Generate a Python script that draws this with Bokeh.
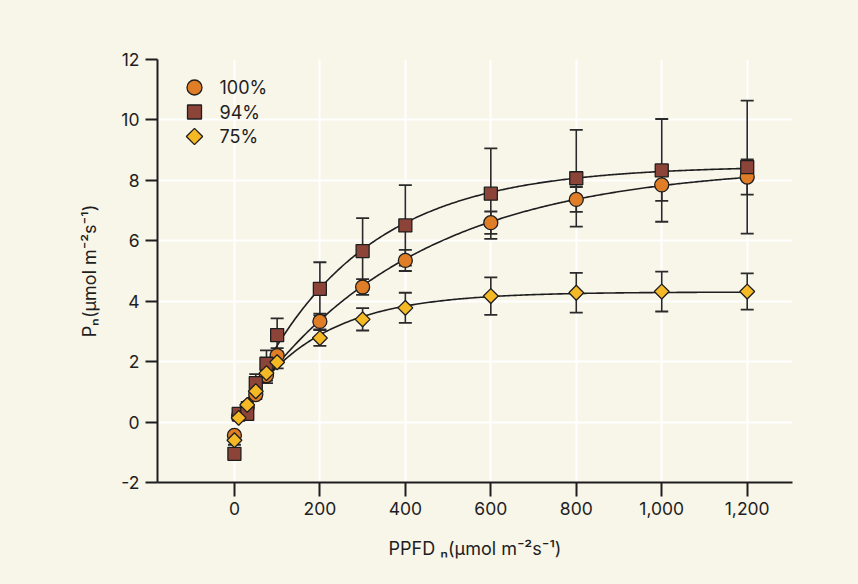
import numpy as np
from bokeh.plotting import figure
from bokeh.models import Range1d, FixedTicker, NumeralTickFormatter, CustomJSTickFormatter
from bokeh.core.properties import value
from bokeh.embed import file_html
from bokeh.resources import INLINE

# ---- data ----
ppfd = [0, 10, 30, 50, 75, 100, 200, 300, 400, 600, 800, 1000, 1200]
pn_100 = [-0.44, 0.22, 0.50, 0.91, 1.54, 2.20, 3.33, 4.47, 5.35, 6.60, 7.37, 7.85, 8.11]
pn_94 = [-1.05, 0.27, 0.27, 1.29, 1.93, 2.88, 4.41, 5.66, 6.51, 7.56, 8.07, 8.33, 8.44]
pn_75 = [-0.60, 0.14, 0.57, 1.02, 1.62, 1.98, 2.78, 3.40, 3.78, 4.17, 4.28, 4.32, 4.32]
err_100 = [0.10, 0.10, 0.12, 0.15, 0.25, 0.25, 0.26, 0.26, 0.35, 0.37, 0.41, 0.53, 0.58]
err_94 = [0.10, 0.10, 0.10, 0.30, 0.44, 0.55, 0.88, 1.09, 1.33, 1.50, 1.60, 1.70, 2.20]
err_75 = [0.15, 0.10, 0.10, 0.20, 0.25, 0.20, 0.26, 0.37, 0.50, 0.62, 0.66, 0.66, 0.60]
series_names = ["100%", "94%", "75%"]
x_ticks = [0, 200, 400, 600, 800, 1000, 1200]
y_ticks = [-2, 0, 2, 4, 6, 8, 10, 12]

BG = "#F8F5E9"
INK = "#1E1E1E"
FONT = "Inter"

W, H = 842, 568
BL, BR, BT, BB = 157, 50, 59, 86
FW, FH = W - BL - BR, H - BT - BB

p = figure(width=W, height=H, output_backend="svg", toolbar_location=None,
           x_range=Range1d(-180, 1306), y_range=Range1d(-2, 12),
           min_border_left=BL, min_border_right=BR, min_border_top=BT, min_border_bottom=BB)
p.background_fill_color = BG
p.border_fill_color = BG
p.outline_line_color = None
# pixel-based helper ranges for the legend block
p.extra_x_ranges = {"lgx": Range1d(0, FW)}
p.extra_y_ranges = {"lgy": Range1d(0, FH)}

for ax in (p.xaxis[0], p.yaxis[0]):
    ax.axis_line_color = INK
    ax.axis_line_width = 2
    ax.major_tick_line_color = INK
    ax.major_tick_line_width = 2
    ax.major_tick_in = 0
    ax.minor_tick_line_color = None
    ax.major_label_text_font = FONT
    ax.major_label_text_font_size = "17.5px"
    ax.major_label_text_color = INK
    ax.axis_label_text_font = FONT
    ax.axis_label_text_font_size = "18px"
    ax.axis_label_text_font_style = "normal"
    ax.axis_label_text_color = INK

p.xaxis[0].ticker = FixedTicker(ticks=x_ticks)
p.xaxis[0].formatter = NumeralTickFormatter(format="0,0")
p.xaxis[0].major_tick_out = 14
p.xaxis[0].major_label_standoff = 5
p.xaxis[0].axis_label = "PPFD \u2099(\u03bcmol m\u207b\u00b2s\u207b\u00b9)"
p.xaxis[0].axis_label_standoff = 20

p.yaxis[0].ticker = FixedTicker(ticks=y_ticks)
p.yaxis[0].formatter = CustomJSTickFormatter(code="return tick.toFixed(0);")
p.yaxis[0].major_tick_out = 12
p.yaxis[0].major_label_standoff = 6
p.yaxis[0].axis_label = "P\u2099(\u03bcmol m\u207b\u00b2s\u207b\u00b9)"
p.yaxis[0].axis_label_standoff = 18

p.xgrid.ticker = FixedTicker(ticks=x_ticks)
p.ygrid.ticker = FixedTicker(ticks=y_ticks)
for g in (p.xgrid[0], p.ygrid[0]):
    g.grid_line_color = "white"
    g.grid_line_width = 2

x_arr = np.array(ppfd, dtype=float)


def fit_curve(xs, ys):
    xs = np.asarray(xs[1:], dtype=float)
    ys = np.asarray(ys[1:], dtype=float)
    best = None
    for k in np.linspace(0.0005, 0.03, 3000):
        A = np.column_stack([1 - np.exp(-k * xs), np.ones_like(xs)])
        coef, *_ = np.linalg.lstsq(A, ys, rcond=None)
        e = ((A @ coef - ys) ** 2).sum()
        if best is None or e < best[0]:
            best = (e, k, coef)
    _, k, (a, c) = best
    xx = np.linspace(xs[0], xs[-1], 300)
    return xx, a * (1 - np.exp(-k * xx)) + c


styles = [
    (pn_100, err_100, dict(marker="circle", size=14, fill_color="#E07D27", angle=0.0)),
    (pn_94, err_94, dict(marker="square", size=13, fill_color="#8C4439", angle=0.0)),
    (pn_75, err_75, dict(marker="square", size=10.5, fill_color="#F6B926", angle=np.pi / 4)),
]

# error bars
for ys, es, st in styles:
    y = np.array(ys)
    e = np.array(es)
    p.segment(x_arr, y - e, x_arr, y + e, line_color="#2a2a2a", line_width=1.6)
    p.scatter(np.concatenate([x_arr, x_arr]), np.concatenate([y - e, y + e]),
              marker="dash", size=13, line_color="#2a2a2a", line_width=1.8)

# fitted curves
for ys, es, st in styles:
    xx, yy = fit_curve(ppfd, ys)
    p.line(xx, yy, line_color=INK, line_width=1.6)

# markers
for ys, es, st in styles:
    p.scatter(x_arr, np.array(ys), marker=st["marker"], size=st["size"], angle=st["angle"],
              fill_color=st["fill_color"], line_color=INK, line_width=1.3)

# legend block (pixel positions inside the plot frame, measured from its bottom-left)
lg_x, lg_y0, lg_step = 37, FH - 28, 24.5
for i, ((ys, es, st), name) in enumerate(zip(styles, series_names)):
    yy = lg_y0 - i * lg_step
    p.scatter([lg_x], [yy], x_range_name="lgx", y_range_name="lgy",
              marker=st["marker"], size=st["size"] + 1, angle=st["angle"],
              fill_color=st["fill_color"], line_color=INK, line_width=1.3)
    p.text([lg_x + 25], [yy], text=[name], x_range_name="lgx", y_range_name="lgy",
           text_font=value(FONT), text_font_size="18px", text_color=INK,
           text_align="left", text_baseline="middle")

html = file_html(p, INLINE)
html = html.replace("<body>", '<body style="background-color:#F8F5E9;">')
open("out.html", "w").write(html)
